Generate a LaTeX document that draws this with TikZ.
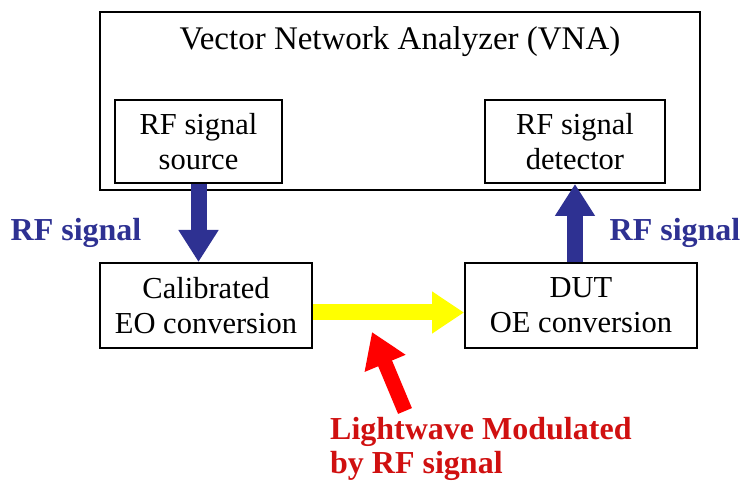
\documentclass[tikz,border=0pt]{standalone}
\usepackage{fontspec}
\setmainfont{Liberation Serif}
\usetikzlibrary{arrows.meta,calc}
\definecolor{navy}{RGB}{46,49,146}
\definecolor{brightyellow}{RGB}{255,255,0}
\definecolor{redarrow}{RGB}{255,0,0}
\definecolor{redtext}{RGB}{208,16,16}
\begin{document}
\begin{tikzpicture}[x=1pt,y=-1pt,
  box/.style={draw=black,line width=2pt,align=center,inner sep=0pt,
    font=\fontsize{30.5}{35}\selectfont},
  bluelabel/.style={text=navy,font=\fontsize{32}{35}\selectfont\bfseries,inner sep=0pt},
  bluearrow/.style={draw=navy,line width=16pt,-{Triangle[width=38pt,length=32pt]}},
  yellowarrow/.style={draw=brightyellow,line width=16pt,-{Triangle[width=40pt,length=32pt]}},
  redarr/.style={draw=redarrow,line width=15pt,-{Triangle[width=42pt,length=34pt]}}]
\useasboundingbox (0,0) rectangle (742,486);
% VNA outer box
\node[box,minimum width=600pt,minimum height=178pt] (vna) at (400,101) {};
\node[font=\fontsize{33}{36}\selectfont,inner sep=0pt] (title) at (400,42) {Vector Network Analyzer (VNA)};
% inner boxes
\node[box,minimum width=167pt,minimum height=83pt] (src) at (198.5,141.5) {RF signal\\source};
\node[box,minimum width=180pt,minimum height=83pt] (det) at (575,141.5) {RF signal\\detector};
\node[box,minimum width=212pt,minimum height=85pt] (cal) at (206,305.5) {Calibrated\\EO conversion};
\node[box,minimum width=232pt,minimum height=85pt] (dut) at (581,305.5) {DUT\\OE conversion};
% labels
\node[bluelabel] (lblL) at (76,233) {RF signal};
\node[bluelabel] (lblR) at (675,233) {RF signal};
\node[text=redtext,font=\fontsize{32}{34}\selectfont\bfseries,align=left,anchor=west,inner sep=0pt] (lw) at (330,449) {Lightwave Modulated\\by RF signal};
% arrows
\draw[bluearrow] (src.south) -- (src.south |- cal.north);
\draw[bluearrow] (det.south |- dut.north) -- (det.south);
\draw[yellowarrow] ($(cal.east)+(0,7)$) -- ($(dut.west)+(0,7)$);
\coordinate (redtail) at (405,411);
\coordinate (redtip) at (372,332);
\draw[redarr] (redtail) -- (redtip);
\end{tikzpicture}
\end{document}
